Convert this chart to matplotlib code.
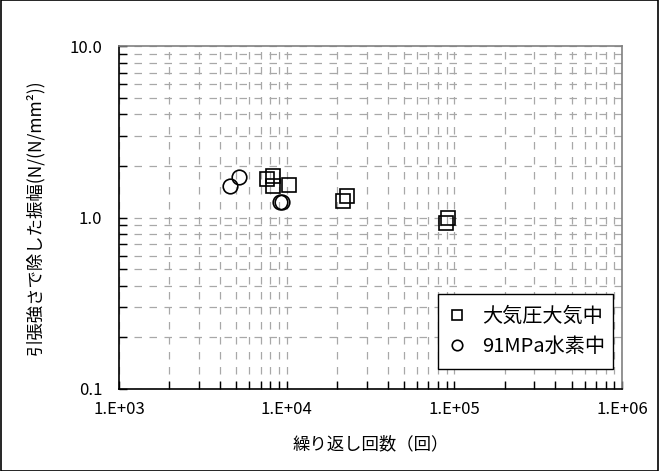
import matplotlib
matplotlib.use("Agg")
import matplotlib.pyplot as plt
from matplotlib.patches import Rectangle
from matplotlib.ticker import LogLocator, FixedLocator, NullFormatter

plt.rcParams['font.family'] = ['Noto Sans CJK JP', 'DejaVu Sans']

# data
air_cycles = [7600, 8250, 8320, 10360, 21600, 22800, 91200, 88700]
air_ratio = [1.67, 1.75, 1.53, 1.55, 1.24, 1.34, 1.00, 0.93]
h2_cycles = [5170, 4590, 9120, 9320]
h2_ratio = [1.73, 1.53, 1.23, 1.23]

x_ticks = [1e3, 1e4, 1e5, 1e6]
x_tick_labels = ["1.E+03", "1.E+04", "1.E+05", "1.E+06"]
y_ticks = [0.1, 1.0, 10.0]
y_tick_labels = ["0.1", "1.0", "10.0"]

fig = plt.figure(figsize=(6.59, 4.71), dpi=100)
ax = fig.add_axes([0.1806, 0.1741, 0.7633, 0.7282])

ax.set_xscale("log")
ax.set_yscale("log")
ax.set_xlim(1e3, 1e6)
ax.set_ylim(0.1, 10)

ax.plot(air_cycles, air_ratio, linestyle="none", marker="s", markersize=10.5,
        markerfacecolor="none", markeredgecolor="black", markeredgewidth=1.2,
        label="大気圧大気中")
ax.plot(h2_cycles, h2_ratio, linestyle="none", marker="o", markersize=10.5,
        markerfacecolor="none", markeredgecolor="black", markeredgewidth=1.2,
        label="91MPa水素中")

ax.xaxis.set_major_locator(FixedLocator(x_ticks))
ax.set_xticklabels(x_tick_labels)
ax.yaxis.set_major_locator(FixedLocator(y_ticks))
ax.set_yticklabels(y_tick_labels)
ax.xaxis.set_minor_locator(LogLocator(base=10, subs=range(2, 10)))
ax.yaxis.set_minor_locator(LogLocator(base=10, subs=range(2, 10)))
ax.xaxis.set_minor_formatter(NullFormatter())
ax.yaxis.set_minor_formatter(NullFormatter())

ax.grid(True, which="both", color="#a8a8a8", linestyle=(0, (6, 6)), linewidth=0.9)
ax.set_axisbelow(True)

ax.tick_params(which="both", direction="in", top=False, right=False,
               labelsize=12, color="black")
ax.tick_params(which="major", length=6, width=1)
ax.tick_params(axis="y", which="major", pad=12)
ax.tick_params(axis="x", which="major", pad=9)
ax.tick_params(which="minor", length=6, width=1)
for s in ax.spines.values():
    s.set_linewidth(1.2)
ax.spines["top"].set_color("#808080")
ax.spines["right"].set_color("#808080")

ax.set_xlabel("繰り返し回数（回）", fontsize=12.5, labelpad=12)
ax.set_ylabel("引張強さで除した振幅(N/(N/mm²))", fontsize=12.5, labelpad=18)

leg = ax.legend(loc="lower right", bbox_to_anchor=(0.983, 0.058), borderaxespad=0,
                fontsize=14.5, frameon=True, fancybox=False, handlelength=0.7,
                handletextpad=0.7, borderpad=0.6, labelspacing=0.45,
                markerscale=0.72)
leg.get_frame().set_edgecolor("black")
leg.get_frame().set_linewidth(1.0)
leg.get_frame().set_alpha(1)
leg._legend_box.sep = 6
for t in leg.get_texts():
    t.set_x(4)

fig.patches.append(Rectangle((0.001, 0.001), 0.998, 0.998, transform=fig.transFigure,
                             fill=False, edgecolor="black", linewidth=1.2))

fig.savefig("out.png", dpi=100)
